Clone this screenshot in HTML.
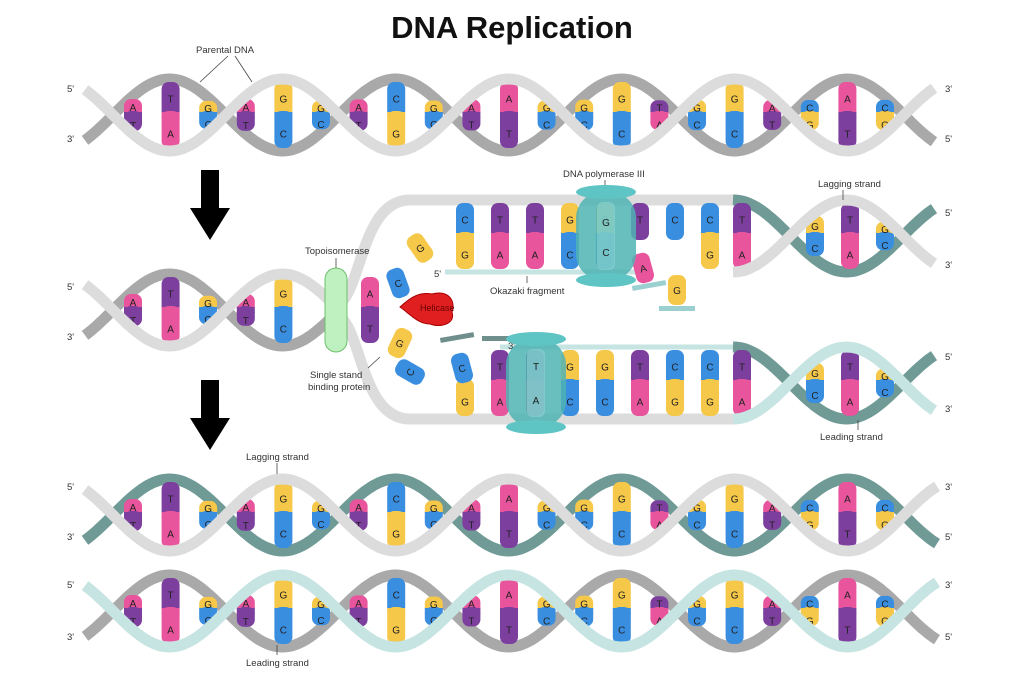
<!DOCTYPE html>
<html><head><meta charset="utf-8">
<style>
body{margin:0;background:#fff;}
svg{display:block;font-family:"Liberation Sans",sans-serif;}
.lb{font-size:9.5px;fill:#333;}
.pr{font-size:9.5px;fill:#333;}
</style></head>
<body>
<svg id="s" width="1024" height="682" viewBox="0 0 1024 682" xmlns="http://www.w3.org/2000/svg">
<text x="512" y="38" text-anchor="middle" font-size="31" font-weight="bold" fill="#111">DNA Replication</text>
<g id="back"></g>
<g id="bases"></g>
<g id="front"></g>
<!-- arrows -->
<polygon points="201,170 219,170 219,208 230,208 210,240 190,208 201,208" fill="#000"/>
<polygon points="201,380 219,380 219,418 230,418 210,450 190,418 201,418" fill="#000"/>
<!-- end labels -->
<g class="pr">
<text x="67" y="92">5'</text><text x="67" y="142">3'</text>
<text x="945" y="92">3'</text><text x="945" y="142">5'</text>
<text x="67" y="290">5'</text><text x="67" y="340">3'</text>
<text x="945" y="216">5'</text><text x="945" y="268">3'</text>
<text x="945" y="360">5'</text><text x="945" y="412">3'</text>
<text x="67" y="490">5'</text><text x="67" y="540">3'</text>
<text x="945" y="490">3'</text><text x="945" y="540">5'</text>
<text x="67" y="588">5'</text><text x="67" y="640">3'</text>
<text x="945" y="588">3'</text><text x="945" y="640">5'</text>
<text x="434" y="277">5'</text>
<text x="508" y="349">3'</text>
</g>
<!-- labels -->
<g class="lb">
<text x="196" y="53">Parental DNA</text>
<line x1="228" y1="56" x2="200" y2="82" stroke="#444" stroke-width="0.8"/>
<line x1="235" y1="56" x2="252" y2="82" stroke="#444" stroke-width="0.8"/>
<text x="305" y="254">Topoisomerase</text>
<line x1="336" y1="258" x2="336" y2="272" stroke="#444" stroke-width="0.8"/>
<text x="310" y="378">Single stand</text>
<text x="308" y="390">binding protein</text>
<line x1="368" y1="368" x2="380" y2="357" stroke="#444" stroke-width="0.8"/>
<text x="563" y="177">DNA polymerase III</text>
<line x1="605" y1="180" x2="605" y2="190" stroke="#444" stroke-width="0.8"/>
<text x="490" y="294">Okazaki fragment</text>
<line x1="527" y1="283" x2="527" y2="276" stroke="#444" stroke-width="0.8"/>
<text x="818" y="187">Lagging strand</text>
<line x1="843" y1="190" x2="843" y2="200" stroke="#444" stroke-width="0.8"/>
<text x="820" y="440">Leading strand</text>
<line x1="858" y1="430" x2="858" y2="420" stroke="#444" stroke-width="0.8"/>
<text x="246" y="460">Lagging strand</text>
<line x1="277" y1="463" x2="277" y2="474" stroke="#444" stroke-width="0.8"/>
<text x="246" y="666">Leading strand</text>
<line x1="277" y1="655" x2="277" y2="645" stroke="#444" stroke-width="0.8"/>
</g>
<g id="top"></g>
</svg>
<script>
var NS="http://www.w3.org/2000/svg";
var COL={A:"#e8559c",T:"#7d3f9e",G:"#f5c84a",C:"#3a8ee0"};
var PAIR={A:"T",T:"A",G:"C",C:"G"};
function el(parent,tag,attrs,txt){var e=document.createElementNS(NS,tag);for(var k in attrs)e.setAttribute(k,attrs[k]);if(txt)e.textContent=txt;document.getElementById(parent).appendChild(e);return e;}
function sinPath(x0,x1,cy,A,xc,P,sg){var d="";for(var x=x0;x<=x1+0.01;x+=3){var y=cy+sg*A*Math.sin(Math.PI*(x-xc)/P);d+=(d?"L":"M")+x.toFixed(1)+","+y.toFixed(1);}return d;}
function strand(layer,d,color,w){el(layer,"path",{d:d,fill:"none",stroke:color,"stroke-width":w||11});}
function base(x,cy,h,t,b){
  var w=18;
  if(t){el("bases","rect",{x:x-w/2,y:cy-h,width:w,height:h+4,rx:7,fill:COL[t]});}
  if(b){el("bases","rect",{x:x-w/2,y:cy-4,width:w,height:h+4,rx:7,fill:COL[b]});}
  if(t&&b){el("bases","rect",{x:x-w/2,y:cy-3,width:w,height:6,fill:COL[b]});}
  if(h>14){
    if(t)el("bases","text",{x:x,y:cy-h/2+4,"text-anchor":"middle","font-size":"10",fill:"#222"},t);
    if(b)el("bases","text",{x:x,y:cy+h/2+6,"text-anchor":"middle","font-size":"10",fill:"#222"},b);
  }
}
function helix(x0,x1,cy,A,xc,P,seq,xs,cBack,cFront){
  strand("back",sinPath(x0,x1,cy,A,xc,P,-1),cBack);
  for(var i=0;i<seq.length;i++){var x=xs[i];var h=A*Math.abs(Math.sin(Math.PI*(x-xc)/P));base(x,cy,Math.max(h-3,8),seq[i],PAIR[seq[i]]);}
  strand("front",sinPath(x0,x1,cy,A,xc,P,1),cFront);
}
var seq1="ATGAGGACGAAGGGTGGACAC".split("");
var xs1=[];for(var i=0;i<21;i++)xs1.push(133+i*37.6);
var GB="#a9a9a9",GF="#dcdcdc",TB="#6f9a96",TF="#c6e4e2";
helix(85,935,115,36,113,113,seq1,xs1,GB,GF);
helix(85,938,515,36,113,113,seq1,xs1,TB,GF);
helix(85,938,611,36,113,113,seq1,xs1,GB,TF);
// row 2
helix(85,338,310,36,113,113,"ATGAG".split(""),[133,170.6,208,245.8,283.4],GB,GF);
// fork strands
strand("back","M336,306 C362,296 360,200 410,200 L735,200",GF);
strand("back","M336,314 C362,324 360,419 410,419 L735,419",GF);
// top right helix
strand("back",sinPath(733,935,236,36,790,113,1),TB);
strand("back","M445,272 L640,272",TF,5);
// bottom right
strand("back","M500,347 L735,347",TF,5);
strand("back",sinPath(733,935,383,36,790,113,1),TB);
// top ladder bases
var tx=[465,500,535,570,605,640,675,710,742],tt="CTTGGTCCT",tb="GAACC  GA";
for(var i=0;i<9;i++){var t=tt[i],b=tb[i]==" "?null:tb[i];if(i==5||i==6)b=null;base(tx[i],236,33,t,b);}
var bt="TTGGTCCT",bb="AACCAGGA";var bx=[500,535,570,605,640,675,710,742];
for(var i=0;i<8;i++){base(bx[i],383,33,bt[i],bb[i]);}
base(465,383,33,null,"G");
// helix bases right
[[815,"G"],[850,"T"],[885,"G"]].forEach(function(p){var h=36*Math.abs(Math.sin(Math.PI*(p[0]-790)/113));base(p[0],236,Math.max(h-3,8),p[1],PAIR[p[1]]);base(p[0],383,Math.max(h-3,8),p[1],PAIR[p[1]]);});
strand("front",sinPath(733,935,236,36,790,113,-1),GF);
strand("front",sinPath(733,935,383,36,790,113,-1),TF);
// loose nucleotides near fork
base(370,310,33,"A","T");
function loose(x,y,rot,L){var g=el("top","g",{transform:"translate("+x+","+y+") rotate("+rot+")"});
 var r=document.createElementNS(NS,"rect");r.setAttribute("x",-9);r.setAttribute("y",-15);r.setAttribute("width",18);r.setAttribute("height",30);r.setAttribute("rx",7);r.setAttribute("fill",COL[L]);g.appendChild(r);
 var t=document.createElementNS(NS,"text");t.setAttribute("y",4);t.setAttribute("text-anchor","middle");t.setAttribute("font-size","10");t.setAttribute("fill","#222");t.textContent=L;g.appendChild(t);}
loose(420,248,-35,"G");loose(398,283,-20,"C");loose(400,343,25,"G");loose(410,372,-60,"C");
loose(462,368,-15,"C");loose(643,268,-15,"A");loose(677,290,0,"G");
el("top","rect",{x:440,y:335,width:34,height:5,fill:"#6f8f8c",transform:"rotate(-10 457 337)"});
el("top","rect",{x:482,y:336,width:34,height:5,fill:"#6f8f8c"});
el("top","rect",{x:632,y:283,width:34,height:5,fill:"#9ccfcf",transform:"rotate(-10 649 285)"});
el("top","rect",{x:659,y:306,width:36,height:5,fill:"#9ccfcf"});
// topoisomerase
el("top","rect",{x:325,y:268,width:22,height:84,rx:11,fill:"#bff0bf",stroke:"#6fbf6f","stroke-width":1});
// helicase
el("top","path",{d:"M400,307 C412,296 420,292 432,294 C448,290 456,300 452,312 C456,324 440,328 430,324 C418,324 410,314 400,307Z",fill:"#e02020",stroke:"#a00","stroke-width":1});
el("top","text",{x:420,y:311,"font-size":"9",fill:"#600"},"Helicase");
// polymerases
function pol(x,y){el("top","rect",{x:x-30,y:y-44,width:60,height:88,rx:26,fill:"#4fb3b3",opacity:0.85});
el("top","ellipse",{cx:x,cy:y-44,rx:30,ry:7,fill:"#5ec4c4"});el("top","ellipse",{cx:x,cy:y+44,rx:30,ry:7,fill:"#5ec4c4"});
el("top","rect",{x:x-9,y:y-34,width:18,height:68,rx:6,fill:"#8fd6d6",opacity:0.6});}
pol(606,236);pol(536,383);
el("top","text",{x:606,y:226,"text-anchor":"middle","font-size":"10",fill:"#222"},"G");
el("top","text",{x:606,y:256,"text-anchor":"middle","font-size":"10",fill:"#222"},"C");
el("top","text",{x:536,y:370,"text-anchor":"middle","font-size":"10",fill:"#222"},"T");
el("top","text",{x:536,y:404,"text-anchor":"middle","font-size":"10",fill:"#222"},"A");
</script>
</body></html>
